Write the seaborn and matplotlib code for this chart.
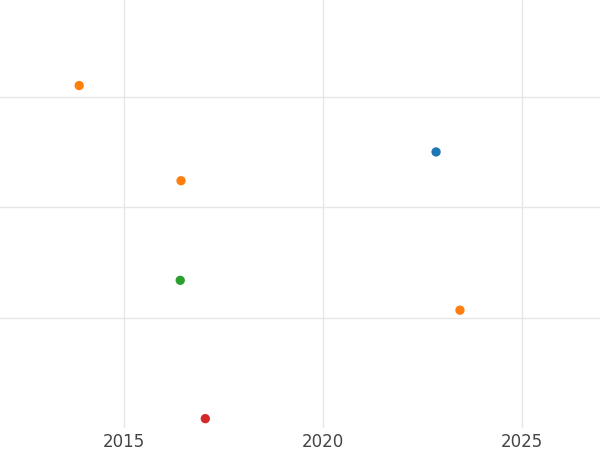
import matplotlib
matplotlib.use("Agg")
import matplotlib.pyplot as plt
import seaborn as sns
import pandas as pd

years = [2013.87, 2016.43, 2016.41, 2017.04, 2022.84, 2023.44]
values = [1.10, 0.24, -0.66, -1.91, 0.50, -0.93]
groups = ["b", "b", "c", "d", "a", "b"]

palette = {"a": "#1f77b4", "b": "#ff7f0e", "c": "#2ca02c", "d": "#d62728"}

sns.set_style("white")
df = pd.DataFrame({"year": years, "value": values, "group": groups})

fig = plt.figure(figsize=(6, 4.5), dpi=100)
ax = fig.add_axes([0, 0.05, 1, 0.95])
sns.scatterplot(data=df, x="year", y="value", hue="group", palette=palette,
                s=45, edgecolor="none", legend=False, ax=ax, zorder=3)
ax.set_xlim(2011.88, 2026.96)
ax.set_ylim(-1.99, 1.873)
ax.set_xticks([2015, 2020, 2025])
ax.set_yticks([-1, 0, 1])
ax.set_yticklabels([])
ax.grid(True, color="#e6e6e6", linewidth=1)
for s in ax.spines.values():
    s.set_visible(False)
ax.tick_params(axis="x", length=0, labelsize=12, labelcolor="#444444", pad=4)
ax.tick_params(axis="y", length=0)
ax.set_xlabel("")
ax.set_ylabel("")
fig.savefig("out.png")
